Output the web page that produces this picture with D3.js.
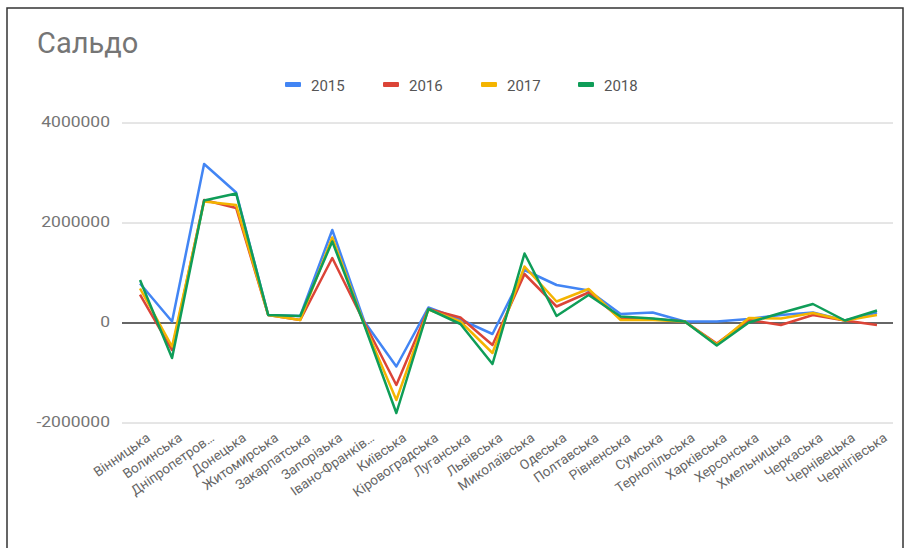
<!DOCTYPE html>
<html><head><meta charset="utf-8">
<script src="https://cdn.jsdelivr.net/npm/d3@7"></script>
<style>body{margin:0;background:#fff}svg{display:block}</style>
</head><body>
<svg id="c" width="910" height="548"></svg>
<script>
const categories = ["Вінницька","Волинська","Дніпропетровська","Донецька","Житомирська","Закарпатська","Запорізька","Івано-Франківська","Київська","Кіровоградська","Луганська","Львівська","Миколаївська","Одеська","Полтавська","Рівненська","Сумська","Тернопільська","Харківська","Херсонська","Хмельницька","Черкаська","Чернівецька","Чернігівська"];
const tickLabels = ["Вінницька","Волинська","Дніпропетров…","Донецька","Житомирська","Закарпатська","Запорізька","Івано-Франків…","Київська","Кіровоградська","Луганська","Львівська","Миколаївська","Одеська","Полтавська","Рівненська","Сумська","Тернопільська","Харківська","Херсонська","Хмельницька","Черкаська","Чернівецька","Чернігівська"];
const years = ["2015","2016","2017","2018"];
const s2015 = [780000, 20000, 3170000, 2600000, 150000, 130000, 1850000, 20000, -880000, 300000, 60000, -230000, 1050000, 750000, 640000, 170000, 200000, 20000, 20000, 70000, 150000, 200000, 40000, 200000];
const s2016 = [560000, -550000, 2450000, 2290000, 150000, 50000, 1290000, 0, -1250000, 270000, 100000, -450000, 970000, 320000, 600000, 80000, 70000, 20000, -420000, 50000, -50000, 150000, 40000, -50000];
const s2017 = [680000, -480000, 2420000, 2350000, 150000, 50000, 1700000, -40000, -1550000, 260000, 20000, -610000, 1120000, 420000, 670000, 50000, 50000, 20000, -440000, 90000, 80000, 190000, 40000, 150000];
const s2018 = [850000, -710000, 2440000, 2580000, 150000, 130000, 1620000, -50000, -1810000, 270000, -30000, -830000, 1380000, 130000, 550000, 120000, 80000, 20000, -460000, 0, 190000, 370000, 40000, 240000];
const yTicks = [-2000000, 0, 2000000, 4000000];
const colors = ["#4285F4", "#DB4437", "#F4B400", "#0F9D58"];
const series = [s2015, s2016, s2017, s2018];

const svg = d3.select("#c");
const font = "Roboto, Arial, sans-serif";
svg.append("rect").attr("x", 7).attr("y", 8).attr("width", 896).attr("height", 560)
  .attr("fill", "#fff").attr("stroke", "#333").attr("stroke-width", 1.5);

const left = 124, right = 893;
const x = d3.scalePoint().domain(categories).range([left, right]).padding(0.5);
const y = d3.scaleLinear().domain([-2000000, 4000000]).range([422.5, 122.5]);

svg.append("text").attr("x", 37).attr("y", 53).text("Сальдо")
  .attr("font-family", font).attr("font-size", 29).attr("fill", "#757575");

// legend
const legendX = [285, 383, 481, 578];
years.forEach((yr, i) => {
  const g = svg.append("g").attr("transform", `translate(${legendX[i]},85)`);
  g.append("rect").attr("x", 0).attr("y", -3).attr("width", 16).attr("height", 5).attr("rx", 1).attr("fill", colors[i]);
  g.append("text").attr("x", 26).attr("y", 5.5).text(yr).attr("font-family", font).attr("font-size", 15).attr("fill", "#555");
});

// grid
const yAxis = d3.axisLeft(y).tickValues(yTicks).tickSize(-(right - left + 2)).tickFormat(d => String(d));
const ga = svg.append("g").attr("transform", `translate(${left - 2},0)`).call(yAxis);
ga.select(".domain").remove();
ga.selectAll(".tick line").attr("stroke", d => d === 0 ? "#333" : "#ccc").attr("stroke-width", d => d === 0 ? 1.5 : 1);
ga.selectAll(".tick text").attr("x", -12 / 1.25).attr("font-family", font).attr("font-size", 14).attr("fill", "#757575")
  .attr("transform", "scale(1.25,1)");
ga.selectAll(".tick").filter(d => d === 0).raise();

// x labels
const labelOf = new Map(categories.map((c, i) => [c, tickLabels[i]]));
const xAxis = d3.axisBottom(x).tickSize(0).tickFormat(c => labelOf.get(c));
const gx = svg.append("g").attr("transform", "translate(0,432)").call(xAxis);
gx.select(".domain").remove();
gx.selectAll(".tick text").attr("font-family", font).attr("font-size", 13.5).attr("fill", "#666")
  .attr("text-anchor", "end").attr("dy", "0.7em").attr("dx", "0.3em").attr("transform", "rotate(-35)");

// lines
const line = d3.line().x((d, i) => x(categories[i])).y(d => y(d));
series.forEach((s, i) => {
  svg.append("path").datum(s).attr("d", line).attr("fill", "none")
    .attr("stroke", colors[i]).attr("stroke-width", 2.5).attr("stroke-linejoin", "round");
});
</script>
</body></html>
